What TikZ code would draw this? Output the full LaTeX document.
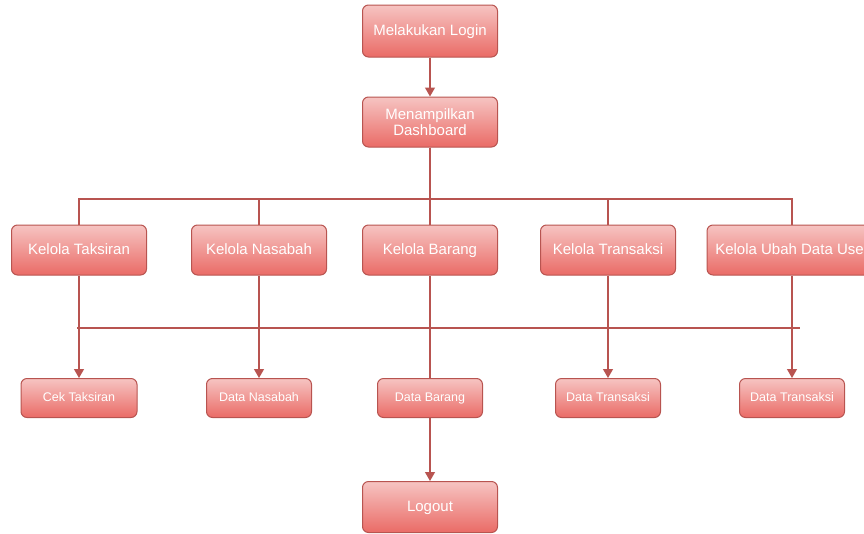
\documentclass[tikz,border=0pt]{standalone}
\usepackage{fontspec}
\setsansfont{Liberation Sans}
\usetikzlibrary{arrows.meta}
\tikzset{every picture/.style={/utils/exec={\sffamily}}}
\definecolor{boxtop}{HTML}{F6C4C2}
\definecolor{boxbottom}{HTML}{EA6B66}
\definecolor{boxline}{HTML}{B85450}
\tikzset{box/.style={draw=boxline,line width=1pt,rounded corners=6pt,top color=boxtop,bottom color=boxbottom,text=white,font=\fontsize{15}{16.5}\selectfont,align=center,minimum width=135pt,minimum height=50pt,inner sep=2pt}}
\tikzset{menu/.style={box,text height=11pt,text depth=3pt}}
\tikzset{datamenu/.style={menu,font=\fontsize{12.5}{14}\selectfont,text height=9pt,text depth=2.5pt,minimum width=105pt,minimum height=39pt}}
\tikzset{link/.style={draw=boxline,line width=1.2pt}}
\tikzset{arrow/.style={link,-{Triangle[length=9pt,width=10pt]}}}

\begin{document}
\begin{tikzpicture}[x=1pt,y=-1pt]
    \useasboundingbox (0,0) rectangle (864,533);
    \node [menu,minimum height=52pt] at (430,31) (login) {Melakukan Login};
    \node [box] at (430,122) (dash) {Menampilkan\\Dashboard};
    % kelola row
    \node [menu] at (79,250) (kt) {Kelola Taksiran};
    \node [menu] at (259,250) (kn) {Kelola Nasabah};
    \node [menu] at (430,250) (kb) {Kelola Barang};
    \node [menu] at (608,250) (ktr) {Kelola Transaksi};
    \node [menu,minimum width=170pt] at (792,250) (ku) {Kelola Ubah Data User};
    % data row
    \node [datamenu,minimum width=116pt] at (79,398) (ct) {Cek Taksiran};
    \node [datamenu] at (259,398) (dn) {Data Nasabah};
    \node [datamenu] at (430,398) (db) {Data Barang};
    \node [datamenu] at (608,398) (dt) {Data Transaksi};
    \node [datamenu] at (792,398) (du) {Data Transaksi};
    \node [menu,minimum height=51pt] at (430,507) (logout) {Logout};

    \draw [arrow] (login) -- (dash);
    \coordinate (top bus) at (430,199);
    \foreach \k in {kt,kn,kb,ktr,ku}
        \draw [link] (dash.south) -- (top bus) -| (\k.north);
    \coordinate (bus left) at (77,328);
    \coordinate (bus right) at (800,328);
    \draw [link] (bus left) -- (bus right);
    \draw [arrow] (kt) -- (ct);
    \draw [arrow] (kn) -- (dn);
    \draw [arrow] (ktr) -- (dt);
    \draw [arrow] (ku) -- (du);
    \draw [link] (kb) -- (db);
    \draw [arrow] (db) -- (logout);
\end{tikzpicture}
\end{document}
